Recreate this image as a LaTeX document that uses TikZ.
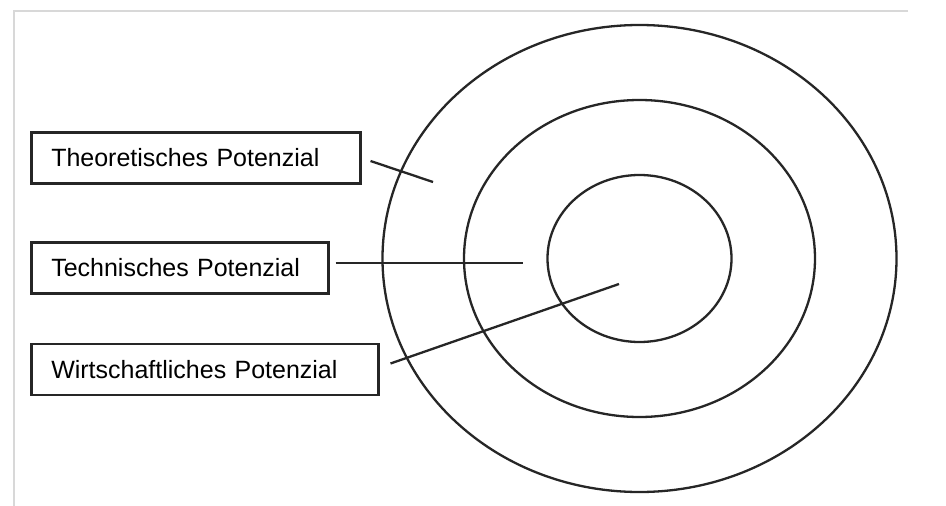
\documentclass[tikz,border=0pt]{standalone}
\usepackage{fontspec}
\setmainfont{Liberation Sans}
\usetikzlibrary{calc}
\definecolor{ink}{HTML}{262626}
\definecolor{frameline}{HTML}{D8D8D8}
\begin{document}
\begin{tikzpicture}[x=1pt,y=-1pt,
  labelbox/.style={draw=ink, line width=2.5pt, rectangle, anchor=west,
    inner xsep=20pt, inner ysep=0pt, minimum height=51pt, align=left,
    text=black, font=\fontsize{25}{30}\selectfont},
  ring/.style={draw=ink, line width=2.3pt},
  pointer/.style={draw=ink, line width=2.3pt}]
  % canvas
  \useasboundingbox (0,0) rectangle (946,506);
  \fill[white] (0,0) rectangle (946,506);
  % faint page frame
  \draw[frameline, line width=1.4pt] (908,11) -- (14,11) -- (14,506);

  % concentric rings
  \coordinate (c) at (639.5,258.5);
  \draw[ring] (c) ellipse [x radius=257pt, y radius=233.5pt];
  \draw[ring] (c) ellipse [x radius=175.5pt, y radius=158.5pt];
  \draw[ring] (c) ellipse [x radius=92pt, y radius=83.5pt];

  % labels
  \node[labelbox, text width=289pt] (theo) at (30,158) {Theoretisches Potenzial};
  \node[labelbox, text width=257pt] (tech) at (30,268) {Technisches Potenzial};
  \node[labelbox, text width=307pt] (wirt) at (30,369.5) {Wirtschaftliches Potenzial};

  % pointer ends inside the rings
  \coordinate (ptheo) at (433,182);
  \coordinate (ptech) at (523,263);
  \coordinate (pwirt) at (619,284);

  \draw[pointer] ([xshift=9pt,yshift=-3pt]theo.east) -- (ptheo);
  \draw[pointer] ([xshift=6pt,yshift=5pt]tech.east) -- (ptech);
  \draw[pointer] ([xshift=11pt,yshift=6pt]wirt.east) -- (pwirt);
\end{tikzpicture}
\end{document}
